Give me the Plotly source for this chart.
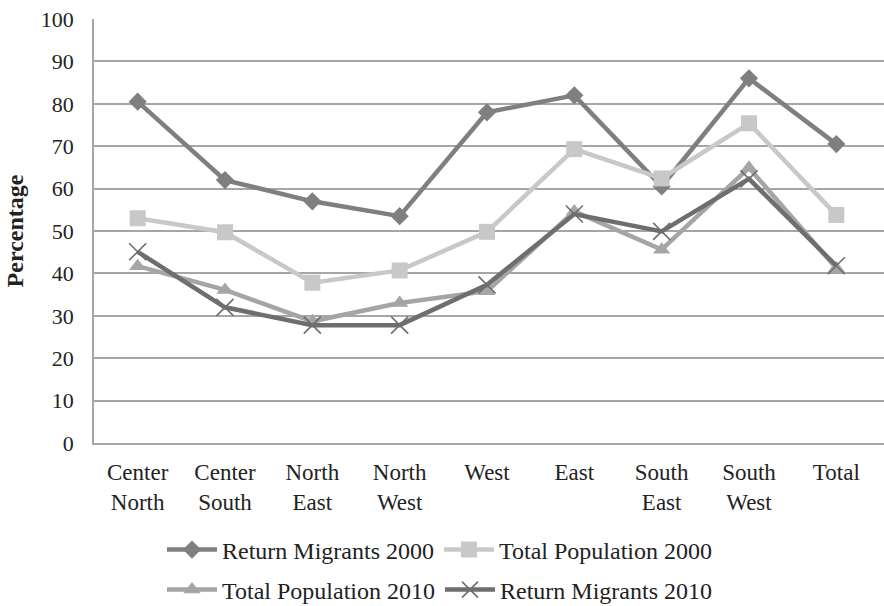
import plotly.graph_objects as go

# Region categories (two-line tick labels)
regions = ["Center<br>North", "Center<br>South", "North<br>East", "North<br>West",
           "West", "East", "South<br>East", "South<br>West", "Total"]

# Percentages per region
return_migrants_2000 = [80.5, 62.0, 57.0, 53.5, 78.0, 82.0, 60.5, 86.0, 70.5]
total_population_2000 = [53.0, 49.7, 37.8, 40.7, 49.8, 69.3, 62.4, 75.4, 53.8]
total_population_2010 = [41.7, 36.1, 28.7, 33.0, 35.8, 54.6, 45.6, 64.9, 41.2]
return_migrants_2010 = [45.1, 32.0, 27.8, 27.8, 37.3, 54.0, 49.9, 62.3, 41.8]

FONT = "Liberation Serif"
TEXT = "#222222"
GRID = "#a6a6a6"
W, H = 884, 606

series = [
    dict(name="Return Migrants 2000", y=return_migrants_2000, color="#7f7f7f",
         symbol="diamond", size=14, legend="legend"),
    dict(name="Total Population 2000", y=total_population_2000, color="#c8c8c8",
         symbol="square", size=16, legend="legend"),
    dict(name="Total Population 2010", y=total_population_2010, color="#a5a5a5",
         symbol="triangle-up", size=15, legend="legend2"),
    dict(name="Return Migrants 2010", y=return_migrants_2010, color="#6e6e6e",
         symbol="x-thin", size=17, legend="legend2"),
]

fig = go.Figure()
for s in series:
    marker = dict(symbol=s["symbol"], size=s["size"], color=s["color"])
    if s["symbol"] == "x-thin":
        marker["line"] = dict(color=s["color"], width=1.6)
    fig.add_trace(go.Scatter(
        x=regions, y=s["y"], name=s["name"], mode="lines+markers",
        line=dict(color=s["color"], width=4.5),
        marker=marker, legend=s["legend"],
    ))

# Two single-row legends, placed in container coordinates (pixels from the top)
legend_common = dict(
    orientation="h", xanchor="left", yanchor="middle",
    xref="container", yref="container",
    font=dict(family=FONT, size=24, color=TEXT),
    itemwidth=50, bgcolor="rgba(0,0,0,0)", traceorder="normal",
)

fig.update_layout(
    width=W, height=H,
    margin=dict(l=94, r=0, t=19, b=163),
    paper_bgcolor="white", plot_bgcolor="white",
    font=dict(family=FONT, size=22, color=TEXT),
    xaxis=dict(
        range=[-0.5, 8.546],
        showgrid=False, showline=True, linecolor=GRID, linewidth=1.5,
        tickfont=dict(family=FONT, size=23, color=TEXT),
        ticks="", ticklabelstandoff=8,
    ),
    yaxis=dict(
        range=[0, 100], dtick=10, showgrid=True, gridcolor=GRID, gridwidth=1.5,
        showline=True, linecolor=GRID, linewidth=1.5, zeroline=False,
        tickfont=dict(family=FONT, size=22, color=TEXT),
        ticks="", ticklabelstandoff=14,
        title=dict(text="<b>Percentage</b>", font=dict(family=FONT, size=24, color=TEXT),
                   standoff=10),
    ),
    legend=dict(x=162 / W, y=1 - 550 / H, **legend_common),
    legend2=dict(x=162 / W, y=1 - 590 / H, **legend_common),
)

fig.write_html("out.html")
